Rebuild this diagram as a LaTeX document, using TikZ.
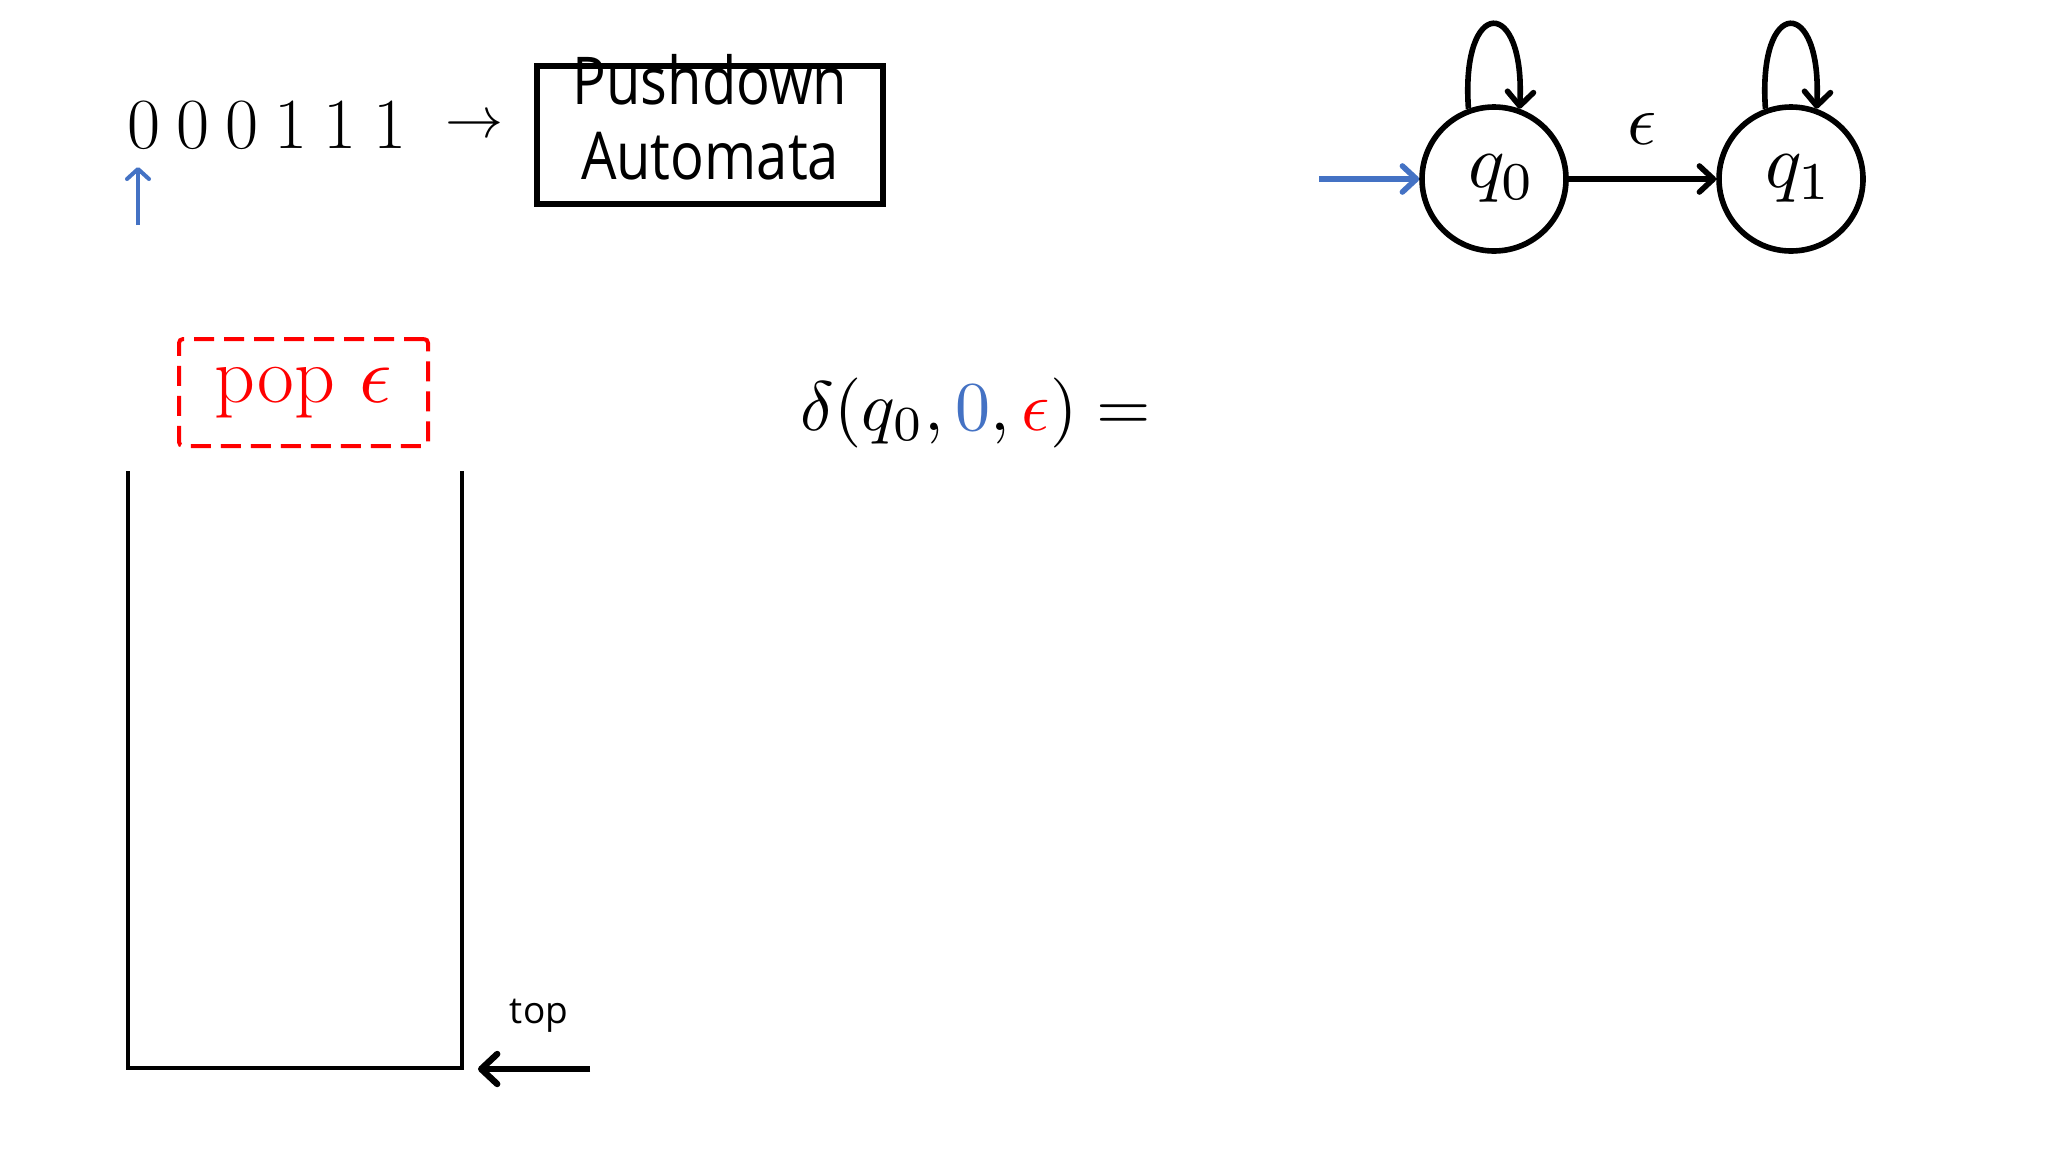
\documentclass[tikz,border=0pt]{standalone}
\usepackage{graphicx}
\usepackage{fontspec}
\newfontfamily\sansfam{Open Sans}
\usetikzlibrary{arrows.meta}
\definecolor{pblue}{HTML}{4472C4}
\definecolor{pred}{HTML}{FF0000}
\newcommand{\scmath}[2]{\scalebox{#1}{\fontsize{10}{12}\selectfont$#2$}}
\begin{document}
\begin{tikzpicture}[x=0.5pt,y=-0.5pt,
  barb/.style={-{Straight Barb[length=7pt,width=13pt,round]}},
  state/.style={circle, draw, line width=2.8pt, minimum size=72pt, inner sep=0pt},
  sanslbl/.style={inner sep=0pt, font=\sansfam\fontsize{33}{40}\selectfont}]
\useasboundingbox (0,0) rectangle (2048,1152);
\fill[white] (0,0) rectangle (2048,1152);

% input string and reading head
\node[anchor=base, inner sep=0pt, font=\fontsize{36}{43}\selectfont] (input) at (267,148)
  {0\kern8pt 0\kern8pt 0\kern8pt 1\kern8pt 1\kern8pt 1};
\node[inner sep=0pt] (feed) at (474,127) {\scmath{2.9}{\rightarrow}};
\coordinate (headfrom) at (138,225);
\coordinate (headto) at (138,167);
\draw[pblue, line width=2pt, -{Straight Barb[length=5pt,width=11pt,round]}] (headfrom) -- (headto);

% PDA box
\node[draw, line width=2.8pt, minimum width=173pt, minimum height=69pt, inner sep=0pt] (pda) at (710,135) {};
\node[sanslbl, anchor=base] (pdat1) at (710,104) {\scalebox{0.85}[1]{Pushdown}};
\node[sanslbl, anchor=base] (pdat2) at (710,179) {\scalebox{0.85}[1]{Automata}};

% pop box
\node[draw=pred, dash pattern=on 10pt off 5pt, line width=2pt, rounded corners=2pt,
  minimum width=124.5pt, minimum height=53.5pt, inner sep=0pt, text=pred,
  font=\fontsize{40}{48}\selectfont] (pop) at (303.5,392.5) {pop \scmath{4}{\epsilon}};

% transition
\node[anchor=base, inner sep=0pt] (delta) at (976,430)
  {\scmath{3.5}{\delta(q_0,{\color{pblue}0},{\color{pred}\epsilon})=}};

% stack
\draw[line width=2.2pt] (128,471) -- (128,1068) -- (462,1068) -- (462,471);
\node[anchor=base, inner sep=0pt, font=\sansfam\fontsize{18.5}{22}\selectfont] (toplbl) at (539,1023) {top};
\coordinate (topfrom) at (590,1069);
\coordinate (topto) at (478,1069);
\draw[line width=3.2pt, -{Straight Barb[length=8pt,width=15pt,round]}] (topfrom) -- (topto);

% automaton
\node[state] (q0) at (1494,179) {\kern8pt\raisebox{-2pt}{\scmath{3.8}{q_0}}};
\node[state] (q1) at (1791,179) {\kern8pt\raisebox{-2pt}{\scmath{3.8}{q_1}}};
\coordinate (init) at (1319,179);
\draw[pblue, line width=2.8pt, barb] (init) -- (q0);
\draw[line width=2.8pt, barb] (q0) -- node[above=15.8pt, inner sep=0pt] (eps) {\scmath{3.6}{\epsilon}} (q1);
\draw[line width=2.8pt, barb] (q0.110) .. controls +(-8,-113) and +(6,-113) .. (q0.70);
\draw[line width=2.8pt, barb] (q1.110) .. controls +(-8,-113) and +(6,-113) .. (q1.70);
\end{tikzpicture}
\end{document}
